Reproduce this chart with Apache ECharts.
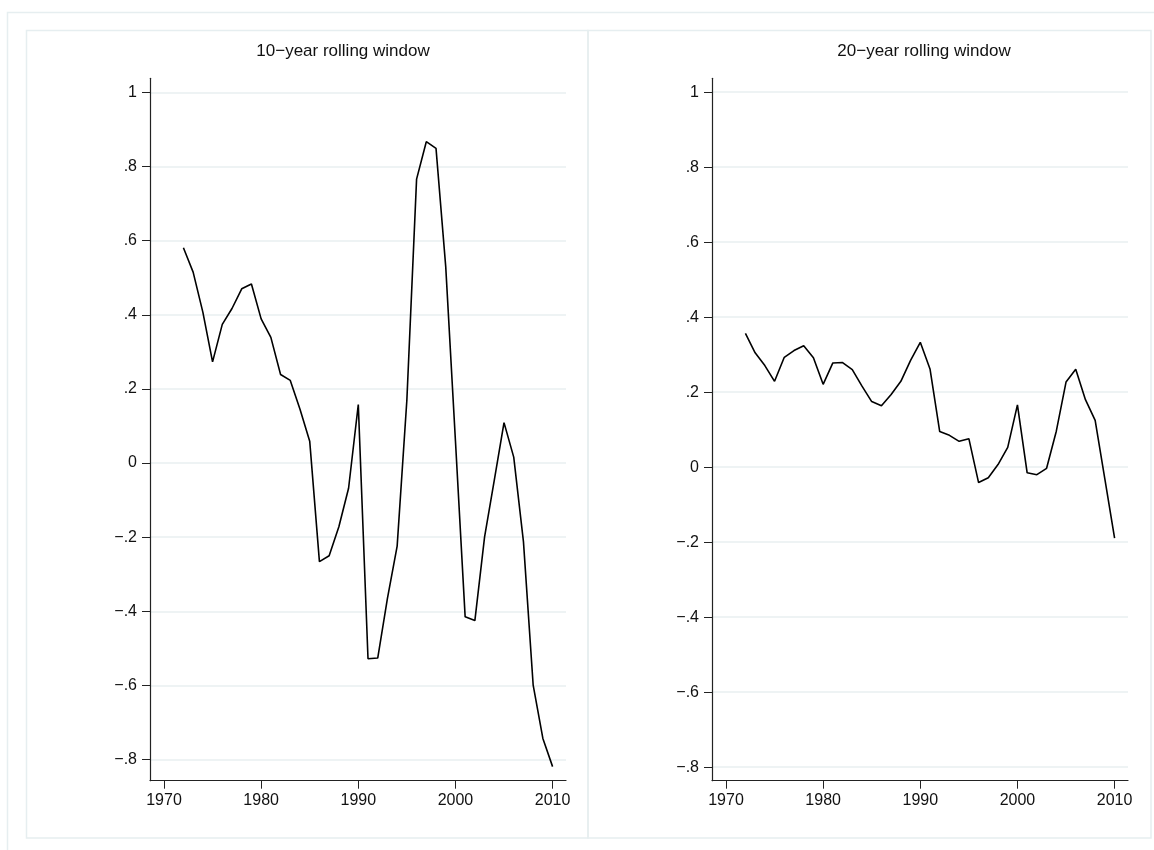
<!DOCTYPE html>
<html>
<head>
<meta charset="utf-8">
<script src="https://cdn.jsdelivr.net/npm/echarts@6/dist/echarts.min.js"></script>
<style>
html,body{margin:0;padding:0;background:#fff;}
#chart{width:1154px;height:850px;}
</style>
</head>
<body>
<div id="chart"></div>
<script>
var years = [1972,1973,1974,1975,1976,1977,1978,1979,1980,1981,1982,1983,1984,1985,1986,1987,1988,1989,1990,1991,1992,1993,1994,1995,1996,1997,1998,1999,2000,2001,2002,2003,2004,2005,2006,2007,2008,2009,2010];
var rolling10 = [0.581,0.515,0.407,0.273,0.374,0.417,0.470,0.483,0.389,0.339,0.239,0.223,0.145,0.059,-0.266,-0.250,-0.172,-0.068,0.158,-0.528,-0.526,-0.365,-0.224,0.170,0.766,0.867,0.849,0.530,0.060,-0.415,-0.425,-0.199,-0.046,0.109,0.016,-0.212,-0.599,-0.743,-0.819];
var rolling20 = [0.357,0.305,0.271,0.229,0.293,0.311,0.324,0.292,0.221,0.278,0.279,0.260,0.216,0.175,0.164,0.194,0.229,0.285,0.333,0.262,0.095,0.085,0.069,0.076,-0.041,-0.028,0.007,0.053,0.166,-0.015,-0.020,-0.003,0.096,0.227,0.261,0.180,0.125,-0.032,-0.189];
var titles = ['10\u2212year rolling window','20\u2212year rolling window'];
var xTicks = [1970,1980,1990,2000,2010];
var yTicks = [-0.8,-0.6,-0.4,-0.2,0,0.2,0.4,0.6,0.8,1];

function pairs(xs, ys){ return xs.map(function(x,i){ return [x, ys[i]]; }); }
function fmtY(v){
  var r = Math.round(v*10)/10;
  if (r === 0) return '0';
  if (r === 1) return '1';
  var s = Math.abs(r).toFixed(1).replace(/^0/, '');
  return (r < 0 ? '\u2212' : '') + s;
}

var FONT = 'Liberation Sans, Arial, Helvetica, sans-serif';
var GRIDC = '#e8eff1';
var FRAMEC = '#e6eef0';
var AXISC = '#222';

function xAxisCfg(idx){
  return {
    type:'value', gridIndex: idx, min: 1968.56, max: 2011.38,
    axisLine:{show:true, onZero:false, lineStyle:{color:AXISC, width:1.2}},
    axisTick:{show:true, length:8, lineStyle:{color:AXISC, width:1}, customValues: xTicks},
    axisLabel:{show:true, margin:12, fontSize:16, fontFamily:FONT, color:'#111', customValues: xTicks,
      formatter:function(v){return String(v);}},
    splitLine:{show:false}
  };
}
function yAxisCfg(idx, mn, mx){
  return {
    type:'value', gridIndex: idx, min: mn, max: mx,
    axisLine:{show:true, onZero:false, lineStyle:{color:AXISC, width:1.2}},
    axisTick:{show:true, length:8, lineStyle:{color:AXISC, width:1}, customValues: yTicks},
    axisLabel:{show:true, margin:13, fontSize:16, fontFamily:FONT, color:'#111', customValues: yTicks,
      formatter:fmtY},
    splitLine:{show:true, lineStyle:{color:GRIDC, width:1.5}}
  };
}

var chart = echarts.init(document.getElementById('chart'), null, {renderer:'canvas'});
chart.setOption({
  backgroundColor:'#fff',
  animation:false,
  graphic:[
    {type:'rect', shape:{x:7.5, y:12.5, width:1160, height:860}, style:{fill:'none', stroke:FRAMEC, lineWidth:1.5}, silent:true},
    {type:'rect', shape:{x:26.5, y:30.5, width:561.5, height:807.5}, style:{fill:'none', stroke:FRAMEC, lineWidth:1.5}, silent:true},
    {type:'rect', shape:{x:588, y:30.5, width:563, height:807.5}, style:{fill:'none', stroke:FRAMEC, lineWidth:1.5}, silent:true}
  ],
  title:[
    {text:titles[0], left:338, top:38, textAlign:'center', textStyle:{fontSize:17, fontWeight:'normal', fontFamily:FONT, color:'#111'}},
    {text:titles[1], left:919, top:38, textAlign:'center', textStyle:{fontSize:17, fontWeight:'normal', fontFamily:FONT, color:'#111'}}
  ],
  grid:[
    {left:150, width:416, top:78.3, height:702.4, containLabel:false},
    {left:712, width:416, top:78.3, height:702.4, containLabel:false}
  ],
  xAxis:[xAxisCfg(0), xAxisCfg(1)],
  yAxis:[yAxisCfg(0, -0.857, 1.038), yAxisCfg(1, -0.836, 1.037)],
  series:[
    {type:'line', xAxisIndex:0, yAxisIndex:0, data:pairs(years, rolling10), showSymbol:false, symbol:'none',
     lineStyle:{color:'#000', width:1.6}, itemStyle:{color:'#000'}},
    {type:'line', xAxisIndex:1, yAxisIndex:1, data:pairs(years, rolling20), showSymbol:false, symbol:'none',
     lineStyle:{color:'#000', width:1.6}, itemStyle:{color:'#000'}}
  ]
});
</script>
</body>
</html>
